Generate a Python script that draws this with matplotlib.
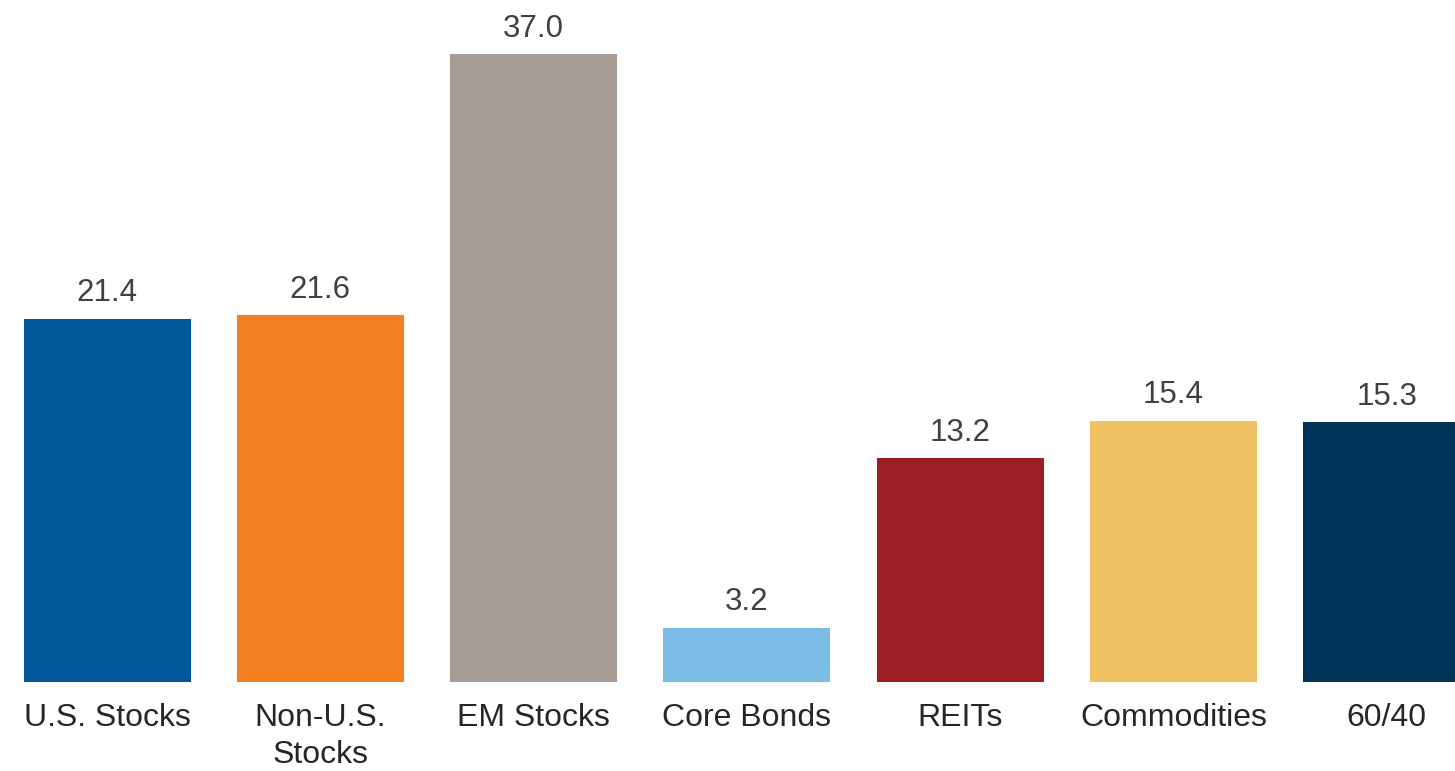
import matplotlib
matplotlib.use("Agg")
import matplotlib.pyplot as plt

categories = ["U.S. Stocks", "Non-U.S.\nStocks", "EM Stocks", "Core Bonds", "REITs", "Commodities", "60/40"]
values = [21.4, 21.6, 37.0, 3.2, 13.2, 15.4, 15.3]
colors = ["#00579A", "#F47F20", "#A59C96", "#7BBCE6", "#9A1E24", "#F0C266", "#003359"]

plt.rcParams['font.family'] = ['Liberation Sans', 'DejaVu Sans']

fig = plt.figure(figsize=(14.55, 7.71), dpi=100)
ax = fig.add_axes([0, 89/771, 1, 682/771])

x = list(range(len(categories)))
bars = ax.bar(x, values, width=0.783, color=colors)
ax.set_xlim(-0.502, 6.32)
ax.set_ylim(0, 40.19)

for xi, v in zip(x, values):
    ax.annotate(f"{v:.1f}", (xi, v), xytext=(0, 12.5), textcoords="offset points",
                ha="center", va="baseline", fontsize=22.5, color="#404040")

ax.set_xticks(x)
ax.set_xticklabels(categories, fontsize=23, color="#262626", linespacing=1.3)
ax.tick_params(axis="x", length=0, pad=15)
ax.set_yticks([])
for s in ax.spines.values():
    s.set_visible(False)

fig.savefig("out.png", dpi=100)
